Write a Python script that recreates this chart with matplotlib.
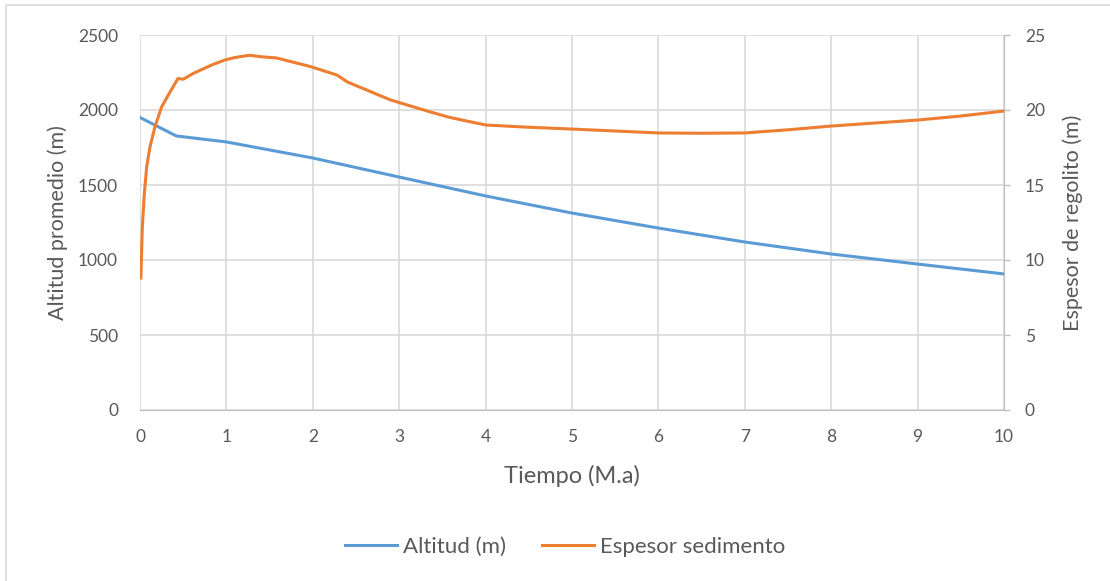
import matplotlib.pyplot as plt
from matplotlib.patches import Rectangle

# Series read at selected times (M.a)
t_alt = [0, 0.42, 1, 2, 3, 4, 5, 6, 7, 8, 9, 10]
altitud = [1950, 1827, 1787, 1680, 1553, 1427, 1313, 1213, 1120, 1040, 973, 907]

t_esp = [0.01, 0.027, 0.05, 0.077, 0.116, 0.174, 0.25, 0.347, 0.44, 0.5, 0.62, 0.83,
         0.98, 1.1, 1.27, 1.4, 1.58, 1.97, 2.28, 2.4, 2.9, 3.36, 3.59, 4, 4.5, 5,
         5.5, 6, 6.5, 7, 7.5, 8, 8.5, 9, 9.5, 10]
espesor = [8.8, 12.2, 14.4, 16.2, 17.55, 18.9, 20.2, 21.2, 22.1, 22.05, 22.45, 23.0,
           23.33, 23.5, 23.65, 23.55, 23.47, 22.9, 22.33, 21.87, 20.67, 19.87, 19.5,
           19.0, 18.85, 18.73, 18.6, 18.47, 18.45, 18.47, 18.68, 18.93, 19.13, 19.33,
           19.6, 19.93]

plt.rcParams['font.family'] = ['Lato', 'DejaVu Sans']
gris = '#595959'

fig = plt.figure(figsize=(11.1, 5.81), dpi=100)
fig.patches.append(Rectangle((0.0055, -0.01), 1.2, 1.002, transform=fig.transFigure,
                             fill=False, edgecolor='#d9d9d9', lw=1.2))

ax = fig.add_axes([140 / 1110, 1 - 410 / 581, 864 / 1110, 375 / 581])
ax2 = ax.twinx()

l1, = ax.plot(t_alt, altitud, color='#5b9bd5', lw=2.2, label='Altitud (m)')
l2, = ax2.plot(t_esp, espesor, color='#ed7d31', lw=2.2, label='Espesor sedimento')

ax.set_xlim(0, 10)
ax.set_ylim(0, 2500)
ax2.set_ylim(0, 25)
ax.set_xticks(range(0, 11))
ax.set_yticks(range(0, 2501, 500))
ax2.set_yticks(range(0, 26, 5))
ax.grid(True, color='#d9d9d9', lw=1.2)
ax.set_axisbelow(True)

for a in (ax, ax2):
    for s in a.spines.values():
        s.set_visible(False)
ax.spines['bottom'].set_visible(True)
ax.spines['bottom'].set_color('#bfbfbf')
ax2.spines['right'].set_visible(True)
ax2.spines['right'].set_color('#bfbfbf')

ax.tick_params(axis='x', length=0, pad=13.5, labelsize=12.5, labelcolor=gris)
ax.tick_params(axis='y', length=0, pad=15.8, labelsize=12.5, labelcolor=gris)
ax2.tick_params(axis='y', length=4.3, width=1, color='#bfbfbf', pad=10.8,
                labelsize=12.5, labelcolor=gris)

ax.set_xlabel('Tiempo (M.a)', fontsize=17, color=gris)
ax.set_ylabel('Altitud promedio (m)', fontsize=15.5, color=gris)
ax2.set_ylabel('Espesor de regolito (m)', fontsize=15.5, color=gris)
ax.xaxis.set_label_coords(0.5, -0.1467)
ax.yaxis.set_label_coords(-0.0833, 0.5)
ax2.yaxis.set_label_coords(1.0671, 0.5)

fig.legend([l1, l2], ['Altitud (m)', 'Espesor sedimento'], loc='center',
           bbox_to_anchor=(565 / 1110, 1 - 547 / 581), ncol=2, frameon=False,
           fontsize=16, labelcolor=gris, handlelength=2.35, columnspacing=1.6,
           handletextpad=0.27)

fig.savefig('out.png', dpi=100)
